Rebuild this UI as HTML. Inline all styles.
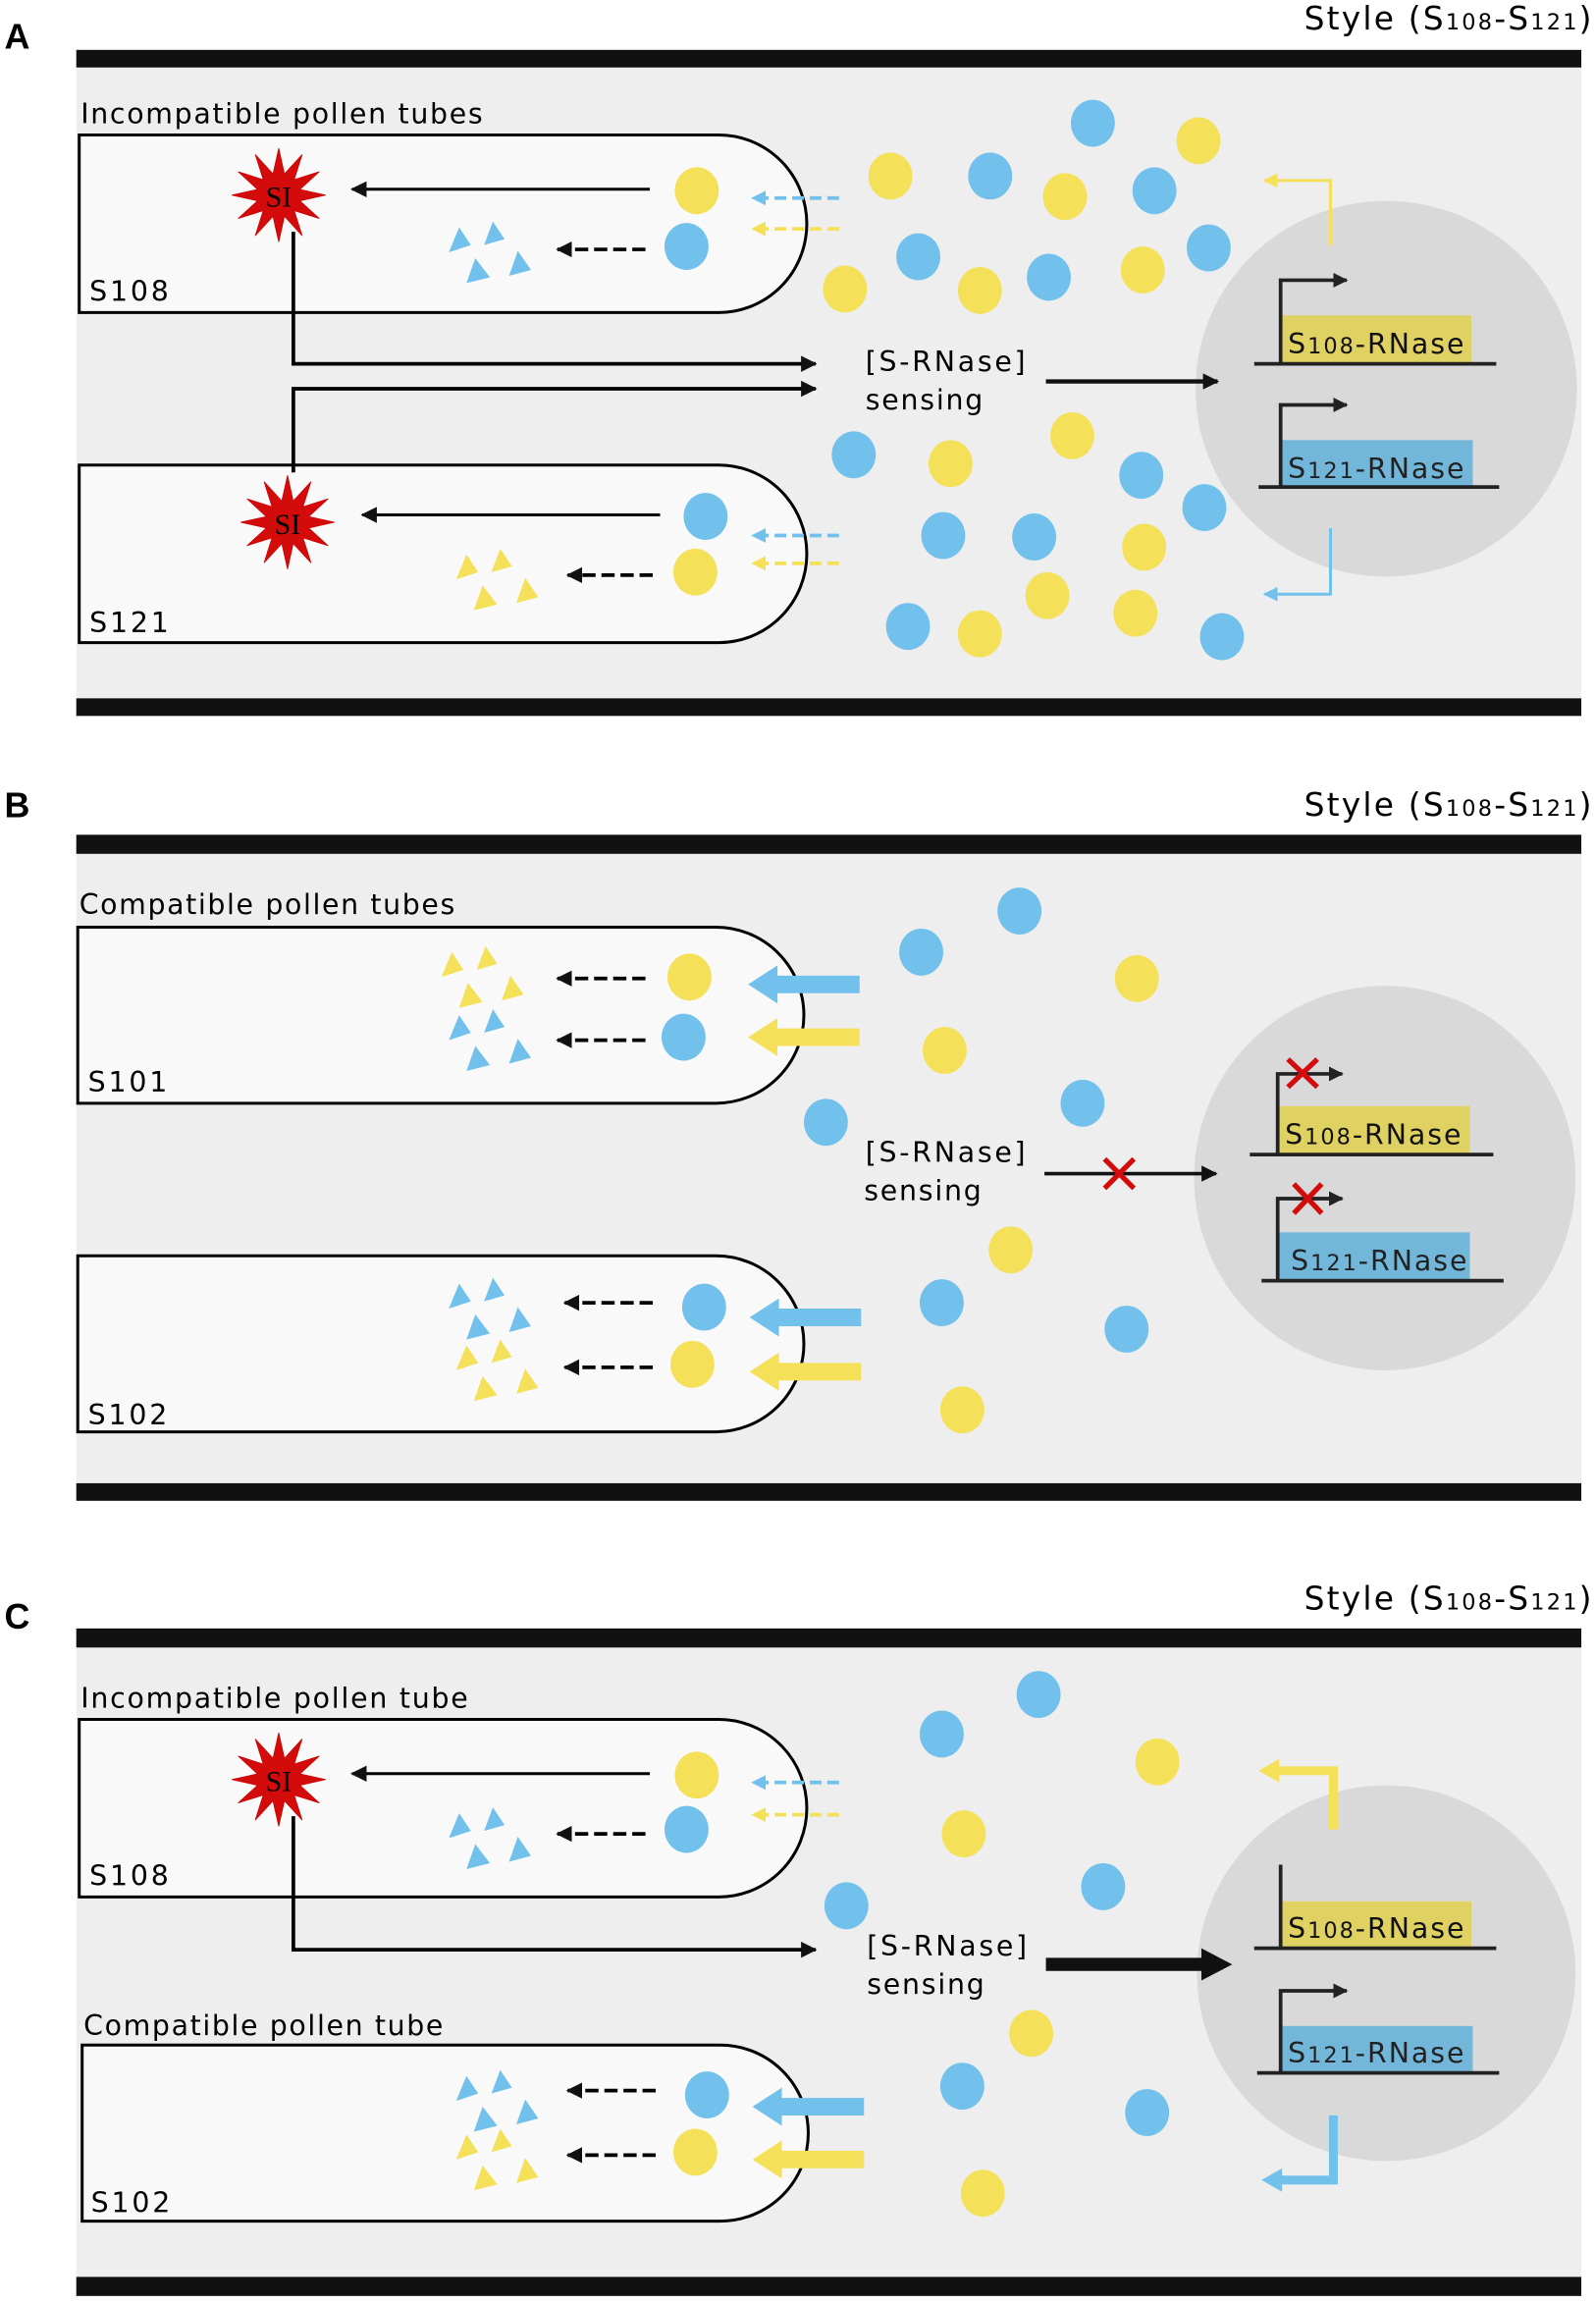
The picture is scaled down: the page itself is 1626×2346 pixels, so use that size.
<!DOCTYPE html>
<html><head><meta charset="utf-8"><style>html,body{margin:0;padding:0;background:#fff}svg{display:block}</style></head>
<body>
<svg xmlns="http://www.w3.org/2000/svg" width="1626" height="2346" viewBox="0 0 1088 1569.8" preserveAspectRatio="none" font-family="'DejaVu Sans', 'Liberation Sans', sans-serif">
<defs>
<marker id="ah" viewBox="0 0 10 10" refX="9" refY="5" markerWidth="11" markerHeight="11" markerUnits="userSpaceOnUse" orient="auto"><path d="M0,0L10,5L0,10Z" fill="#111"/></marker>
<marker id="ahs" viewBox="0 0 10 10" refX="9" refY="5" markerWidth="10" markerHeight="10" markerUnits="userSpaceOnUse" orient="auto"><path d="M0,0L10,5L0,10Z" fill="#222"/></marker>
<marker id="ab" viewBox="0 0 10 10" refX="9" refY="5" markerWidth="10" markerHeight="10" markerUnits="userSpaceOnUse" orient="auto"><path d="M0,0L10,5L0,10Z" fill="#72c1ec"/></marker>
<marker id="ay" viewBox="0 0 10 10" refX="9" refY="5" markerWidth="10" markerHeight="10" markerUnits="userSpaceOnUse" orient="auto"><path d="M0,0L10,5L0,10Z" fill="#f5e05a"/></marker>
<polygon id="star" points="32,0 14.5,3.9 27.7,16 10.6,10.6 16,27.7 3.9,14.5 0,32 -3.9,14.5 -16,27.7 -10.6,10.6 -27.7,16 -14.5,3.9 -32,0 -14.5,-3.9 -27.7,-16 -10.6,-10.6 -16,-27.7 -3.9,-14.5 0,-32 3.9,-14.5 16,-27.7 10.6,-10.6 27.7,-16 14.5,-3.9" fill="#d40b0b" stroke="#c00" stroke-width="0.5"/>
<g id="tri"><polygon points="-31,2 -24,-15 -16,-3"/><polygon points="-7,-3 -1,-19 7,-7"/><polygon points="-19,23 -13,6 -3,19"/><polygon points="10,18 16,1 25,14"/></g>
<path id="bigY" d="M0,-6 H-56 V-13 L-76,0 L-56,13 V6 H0 Z"/>
</defs>

<!-- ============ PANEL A ============ -->
<text x="3" y="33" font-size="24" font-weight="bold" font-family="'Liberation Sans',sans-serif">A</text>
<text x="1085" y="20" font-size="22" text-anchor="end" textLength="196">Style (S<tspan font-size="15">108</tspan>-S<tspan font-size="15">121</tspan>)</text>
<rect x="52" y="46" width="1026" height="430" fill="#eeeeee"/>
<rect x="52" y="34" width="1026" height="12" fill="#111"/>
<rect x="52" y="476" width="1026" height="12" fill="#111"/>
<text x="55" y="84" font-size="19" textLength="274">Incompatible pollen tubes</text>
<path d="M54,92 H490 A60,60.5 0 0 1 490,213 H54 Z" fill="#f9f9f9" stroke="#000" stroke-width="2"/>
<path d="M54,317 H490 A60,60.5 0 0 1 490,438 H54 Z" fill="#f9f9f9" stroke="#000" stroke-width="2"/>
<text x="61" y="205" font-size="19" textLength="54">S108</text>
<text x="61" y="431" font-size="19" textLength="54">S121</text>
<ellipse cx="945" cy="265" rx="130" ry="128" fill="#d9d9d9"/>
<use href="#star" x="190" y="133"/>
<text x="190" y="141" font-size="20" text-anchor="middle" font-family="'Liberation Serif',serif">SI</text>
<line x1="443" y1="129" x2="240" y2="129" stroke="#000" stroke-width="2" marker-end="url(#ah)"/>
<line x1="440" y1="170" x2="380" y2="170" stroke="#000" stroke-width="2.5" stroke-dasharray="9,4" marker-end="url(#ah)"/>
<ellipse cx="475" cy="130" rx="15" ry="16" fill="#f5e05a"/>
<ellipse cx="468" cy="168" rx="15" ry="16" fill="#72c1ec"/>
<use href="#tri" x="337" y="170" fill="#72c1ec"/>
<line x1="572" y1="135" x2="513" y2="135" stroke="#72c1ec" stroke-width="2.5" stroke-dasharray="8,4" marker-end="url(#ab)"/>
<line x1="572" y1="156" x2="513" y2="156" stroke="#f5e05a" stroke-width="2.5" stroke-dasharray="8,4" marker-end="url(#ay)"/>
<use href="#star" x="196" y="356"/>
<text x="196" y="364" font-size="20" text-anchor="middle" font-family="'Liberation Serif',serif">SI</text>
<line x1="450" y1="351" x2="247" y2="351" stroke="#000" stroke-width="2" marker-end="url(#ah)"/>
<line x1="445" y1="392" x2="387" y2="392" stroke="#000" stroke-width="2.5" stroke-dasharray="9,4" marker-end="url(#ah)"/>
<ellipse cx="481" cy="352" rx="15" ry="16" fill="#72c1ec"/>
<ellipse cx="474" cy="390" rx="15" ry="16" fill="#f5e05a"/>
<use href="#tri" x="342" y="393" fill="#f5e05a"/>
<line x1="572" y1="365" x2="513" y2="365" stroke="#72c1ec" stroke-width="2.5" stroke-dasharray="8,4" marker-end="url(#ab)"/>
<line x1="572" y1="384" x2="513" y2="384" stroke="#f5e05a" stroke-width="2.5" stroke-dasharray="8,4" marker-end="url(#ay)"/>
<path d="M200,158 V248 H556" fill="none" stroke="#000" stroke-width="2.5" marker-end="url(#ah)"/>
<path d="M200,322 V265 H556" fill="none" stroke="#000" stroke-width="2.5" marker-end="url(#ah)"/>
<text x="590" y="253" font-size="19" textLength="109">[S-RNase]</text>
<text x="590" y="279" font-size="19" textLength="80">sensing</text>
<line x1="713" y1="260" x2="830" y2="260" stroke="#111" stroke-width="3" marker-end="url(#ah)"/>
<g fill="#f5e05a">
<ellipse cx="607" cy="120" rx="15" ry="16"/><ellipse cx="726" cy="134" rx="15" ry="16"/><ellipse cx="817" cy="96" rx="15" ry="16"/><ellipse cx="576" cy="197" rx="15" ry="16"/><ellipse cx="668" cy="198" rx="15" ry="16"/><ellipse cx="779" cy="184" rx="15" ry="16"/><ellipse cx="648" cy="316" rx="15" ry="16"/><ellipse cx="731" cy="297" rx="15" ry="16"/><ellipse cx="780" cy="373" rx="15" ry="16"/><ellipse cx="714" cy="406" rx="15" ry="16"/><ellipse cx="774" cy="418" rx="15" ry="16"/><ellipse cx="668" cy="432" rx="15" ry="16"/></g>
<g fill="#72c1ec">
<ellipse cx="745" cy="84" rx="15" ry="16"/><ellipse cx="675" cy="120" rx="15" ry="16"/><ellipse cx="787" cy="130" rx="15" ry="16"/><ellipse cx="626" cy="175" rx="15" ry="16"/><ellipse cx="715" cy="189" rx="15" ry="16"/><ellipse cx="824" cy="169" rx="15" ry="16"/><ellipse cx="582" cy="310" rx="15" ry="16"/><ellipse cx="778" cy="324" rx="15" ry="16"/><ellipse cx="821" cy="346" rx="15" ry="16"/><ellipse cx="643" cy="365" rx="15" ry="16"/><ellipse cx="705" cy="366" rx="15" ry="16"/><ellipse cx="619" cy="427" rx="15" ry="16"/><ellipse cx="833" cy="434" rx="15" ry="16"/></g>
<rect x="873" y="215" width="130" height="33" fill="#e0d163"/>
<line x1="855" y1="248" x2="1020" y2="248" stroke="#222" stroke-width="2.5"/>
<path d="M873,248 V191 H918" fill="none" stroke="#222" stroke-width="2.5" marker-end="url(#ahs)"/>
<text x="878" y="241" font-size="19" fill="#111" textLength="120">S<tspan font-size="15">108</tspan>-RNase</text>
<rect x="873" y="300" width="131" height="32" fill="#72b7da"/>
<line x1="858" y1="332" x2="1022" y2="332" stroke="#222" stroke-width="2.5"/>
<path d="M873,332 V276 H918" fill="none" stroke="#222" stroke-width="2.5" marker-end="url(#ahs)"/>
<text x="878" y="326" font-size="19" fill="#222" textLength="120">S<tspan font-size="15">121</tspan>-RNase</text>
<path d="M907,167 V123 H862" fill="none" stroke="#f5e05a" stroke-width="2" marker-end="url(#ay)"/>
<path d="M907,360 V405 H862" fill="none" stroke="#72c1ec" stroke-width="2" marker-end="url(#ab)"/>

<!-- ============ PANEL B ============ -->
<text x="3" y="557" font-size="24" font-weight="bold" font-family="'Liberation Sans',sans-serif">B</text>
<text x="1085" y="556" font-size="22" text-anchor="end" textLength="196">Style (S<tspan font-size="15">108</tspan>-S<tspan font-size="15">121</tspan>)</text>
<rect x="52" y="582" width="1026" height="429" fill="#eeeeee"/>
<rect x="52" y="569" width="1026" height="13" fill="#111"/>
<rect x="52" y="1011" width="1026" height="12" fill="#111"/>
<text x="54" y="623" font-size="19" textLength="256">Compatible pollen tubes</text>
<path d="M53,632 H488 A60,60 0 0 1 488,752 H53 Z" fill="#f9f9f9" stroke="#000" stroke-width="2"/>
<path d="M53,856 H488 A60,60 0 0 1 488,976 H53 Z" fill="#f9f9f9" stroke="#000" stroke-width="2"/>
<text x="60" y="744" font-size="19" textLength="54">S101</text>
<text x="60" y="971" font-size="19" textLength="54">S102</text>
<ellipse cx="944" cy="803" rx="130" ry="131" fill="#d9d9d9"/>
<use href="#tri" x="332" y="664" fill="#f5e05a"/>
<use href="#tri" x="337" y="707" fill="#72c1ec"/>
<line x1="440" y1="667" x2="380" y2="667" stroke="#000" stroke-width="2.5" stroke-dasharray="9,4" marker-end="url(#ah)"/>
<line x1="440" y1="709" x2="380" y2="709" stroke="#000" stroke-width="2.5" stroke-dasharray="9,4" marker-end="url(#ah)"/>
<ellipse cx="470" cy="666" rx="15" ry="16" fill="#f5e05a"/>
<ellipse cx="466" cy="707" rx="15" ry="16" fill="#72c1ec"/>
<use href="#bigY" x="586" y="671" fill="#72c1ec"/>
<use href="#bigY" x="586" y="707" fill="#f5e05a"/>
<use href="#tri" x="337" y="890" fill="#72c1ec"/>
<use href="#tri" x="342" y="932" fill="#f5e05a"/>
<line x1="445" y1="888" x2="385" y2="888" stroke="#000" stroke-width="2.5" stroke-dasharray="9,4" marker-end="url(#ah)"/>
<line x1="445" y1="932" x2="385" y2="932" stroke="#000" stroke-width="2.5" stroke-dasharray="9,4" marker-end="url(#ah)"/>
<ellipse cx="480" cy="891" rx="15" ry="16" fill="#72c1ec"/>
<ellipse cx="472" cy="930" rx="15" ry="16" fill="#f5e05a"/>
<use href="#bigY" x="587" y="898" fill="#72c1ec"/>
<use href="#bigY" x="587" y="935" fill="#f5e05a"/>
<g fill="#72c1ec"><ellipse cx="695" cy="621" rx="15" ry="16"/><ellipse cx="628" cy="649" rx="15" ry="16"/><ellipse cx="738" cy="752" rx="15" ry="16"/><ellipse cx="563" cy="765" rx="15" ry="16"/><ellipse cx="642" cy="888" rx="15" ry="16"/><ellipse cx="768" cy="906" rx="15" ry="16"/></g>
<g fill="#f5e05a"><ellipse cx="775" cy="667" rx="15" ry="16"/><ellipse cx="644" cy="716" rx="15" ry="16"/><ellipse cx="689" cy="852" rx="15" ry="16"/><ellipse cx="656" cy="961" rx="15" ry="16"/></g>
<text x="590" y="792" font-size="19" textLength="109">[S-RNase]</text>
<text x="589" y="818" font-size="19" textLength="80">sensing</text>
<line x1="712" y1="800" x2="829" y2="800" stroke="#111" stroke-width="2.5" marker-end="url(#ah)"/>
<path d="M753,790 L773,810 M773,790 L753,810" stroke="#d40b0b" stroke-width="3.5"/>
<rect x="871" y="754" width="131" height="33" fill="#e0d163"/>
<line x1="852" y1="787" x2="1018" y2="787" stroke="#222" stroke-width="2.5"/>
<path d="M871,787 V732 H915" fill="none" stroke="#222" stroke-width="2.5" marker-end="url(#ahs)"/>
<text x="876" y="780" font-size="19" fill="#111" textLength="120">S<tspan font-size="15">108</tspan>-RNase</text>
<path d="M878,722 L898,741 M898,722 L878,741" stroke="#d40b0b" stroke-width="3.5"/>
<rect x="871" y="840" width="131" height="33" fill="#72b7da"/>
<line x1="860" y1="873" x2="1025" y2="873" stroke="#222" stroke-width="2.5"/>
<path d="M871,873 V817 H915" fill="none" stroke="#222" stroke-width="2.5" marker-end="url(#ahs)"/>
<text x="880" y="866" font-size="19" fill="#222" textLength="120">S<tspan font-size="15">121</tspan>-RNase</text>
<path d="M882,807 L901,827 M901,807 L882,827" stroke="#d40b0b" stroke-width="3.5"/>

<!-- ============ PANEL C ============ -->
<text x="3" y="1110" font-size="24" font-weight="bold" font-family="'Liberation Sans',sans-serif">C</text>
<text x="1085" y="1097" font-size="22" text-anchor="end" textLength="196">Style (S<tspan font-size="15">108</tspan>-S<tspan font-size="15">121</tspan>)</text>
<rect x="52" y="1123" width="1026" height="429" fill="#eeeeee"/>
<rect x="52" y="1110" width="1026" height="13" fill="#111"/>
<rect x="52" y="1552" width="1026" height="13" fill="#111"/>
<text x="55" y="1164" font-size="19" textLength="264">Incompatible pollen tube</text>
<text x="57" y="1387" font-size="19" textLength="245">Compatible pollen tube</text>
<path d="M54,1172 H490 A60,60.5 0 0 1 490,1293 H54 Z" fill="#f9f9f9" stroke="#000" stroke-width="2"/>
<path d="M56,1394 H491 A60,60 0 0 1 491,1514 H56 Z" fill="#f9f9f9" stroke="#000" stroke-width="2"/>
<text x="61" y="1285" font-size="19" textLength="54">S108</text>
<text x="62" y="1508" font-size="19" textLength="54">S102</text>
<ellipse cx="945" cy="1345" rx="129" ry="128" fill="#d9d9d9"/>
<use href="#star" x="190" y="1213"/>
<text x="190" y="1221" font-size="20" text-anchor="middle" font-family="'Liberation Serif',serif">SI</text>
<line x1="443" y1="1209" x2="240" y2="1209" stroke="#000" stroke-width="2" marker-end="url(#ah)"/>
<line x1="440" y1="1250" x2="380" y2="1250" stroke="#000" stroke-width="2.5" stroke-dasharray="9,4" marker-end="url(#ah)"/>
<ellipse cx="475" cy="1210" rx="15" ry="16" fill="#f5e05a"/>
<ellipse cx="468" cy="1247" rx="15" ry="16" fill="#72c1ec"/>
<use href="#tri" x="337" y="1251" fill="#72c1ec"/>
<line x1="572" y1="1215" x2="513" y2="1215" stroke="#72c1ec" stroke-width="2.5" stroke-dasharray="8,4" marker-end="url(#ab)"/>
<line x1="572" y1="1237" x2="513" y2="1237" stroke="#f5e05a" stroke-width="2.5" stroke-dasharray="8,4" marker-end="url(#ay)"/>
<path d="M200,1238 V1329 H556" fill="none" stroke="#000" stroke-width="2.5" marker-end="url(#ah)"/>
<use href="#tri" x="342" y="1430" fill="#72c1ec"/>
<use href="#tri" x="342" y="1470" fill="#f5e05a"/>
<line x1="447" y1="1425" x2="387" y2="1425" stroke="#000" stroke-width="2.5" stroke-dasharray="9,4" marker-end="url(#ah)"/>
<line x1="447" y1="1469" x2="387" y2="1469" stroke="#000" stroke-width="2.5" stroke-dasharray="9,4" marker-end="url(#ah)"/>
<ellipse cx="482" cy="1428" rx="15" ry="16" fill="#72c1ec"/>
<ellipse cx="474" cy="1467" rx="15" ry="16" fill="#f5e05a"/>
<use href="#bigY" x="589" y="1436" fill="#72c1ec"/>
<use href="#bigY" x="589" y="1472" fill="#f5e05a"/>
<g fill="#72c1ec"><ellipse cx="708" cy="1155" rx="15" ry="16"/><ellipse cx="642" cy="1182" rx="15" ry="16"/><ellipse cx="752" cy="1286" rx="15" ry="16"/><ellipse cx="577" cy="1299" rx="15" ry="16"/><ellipse cx="656" cy="1422" rx="15" ry="16"/><ellipse cx="782" cy="1440" rx="15" ry="16"/></g>
<g fill="#f5e05a"><ellipse cx="789" cy="1201" rx="15" ry="16"/><ellipse cx="657" cy="1250" rx="15" ry="16"/><ellipse cx="703" cy="1386" rx="15" ry="16"/><ellipse cx="670" cy="1495" rx="15" ry="16"/></g>
<text x="591" y="1333" font-size="19" textLength="109">[S-RNase]</text>
<text x="591" y="1359" font-size="19" textLength="80">sensing</text>
<path d="M713,1334.5 H819 V1328 L840,1339 L819,1350 V1343.5 H713 Z" fill="#111"/>
<rect x="873" y="1296" width="130" height="32" fill="#e0d163"/>
<line x1="855" y1="1328" x2="1020" y2="1328" stroke="#222" stroke-width="2.5"/>
<line x1="873" y1="1328" x2="873" y2="1271" stroke="#222" stroke-width="2.5"/>
<text x="878" y="1321" font-size="19" fill="#111" textLength="120">S<tspan font-size="15">108</tspan>-RNase</text>
<rect x="873" y="1381" width="131" height="32" fill="#72b7da"/>
<line x1="857" y1="1413" x2="1022" y2="1413" stroke="#222" stroke-width="2.5"/>
<path d="M873,1413 V1357 H918" fill="none" stroke="#222" stroke-width="2.5" marker-end="url(#ahs)"/>
<text x="878" y="1406" font-size="19" fill="#222" textLength="120">S<tspan font-size="15">121</tspan>-RNase</text>
<path d="M909,1247 V1207 H870" fill="none" stroke="#f5e05a" stroke-width="6"/>
<path d="M872,1199 L858,1207 L872,1215 Z" fill="#f5e05a"/>
<path d="M909,1442 V1486 H872" fill="none" stroke="#72c1ec" stroke-width="6"/>
<path d="M874,1478 L860,1486 L874,1494 Z" fill="#72c1ec"/>
</svg>
</body></html>
